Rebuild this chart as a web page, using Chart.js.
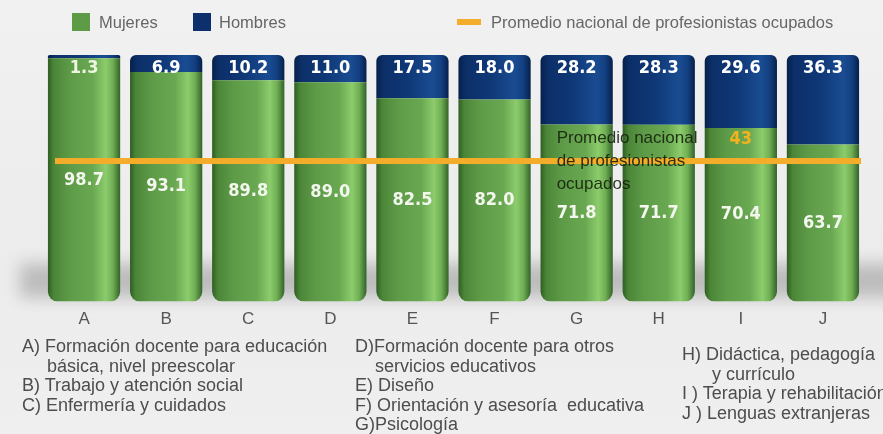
<!DOCTYPE html>
<html>
<head>
<meta charset="utf-8">
<script src="https://cdn.jsdelivr.net/npm/chart.js@4.4.0/dist/chart.umd.min.js"></script>
<style>
  body { margin: 0; background: #eeeeee; font-family: "Liberation Sans", Arial, sans-serif; }
  #wrap { position: relative; width: 883px; height: 434px; overflow: hidden;
          background: linear-gradient(#f1f1f1, #ececec 60%, #efefef); }
  #chartBox { position: absolute; left: 0; top: 0; width: 883px; height: 342px; }
  .leg { position: absolute; top: 12px; font-size: 16.5px; color: #666; line-height: 20px; white-space: nowrap; }
  .sw { position: absolute; }
  .nota { position: absolute; font-size: 18px; color: #4d4d4d; line-height: 19.5px; white-space: nowrap; }
</style>
</head>
<body>
<div id="wrap">
  <div id="chartBox"><canvas id="myChart"></canvas></div>

  <div class="sw" style="left:72px;top:13px;width:18px;height:18px;background:#5d9b47"></div>
  <div class="leg" style="left:99px" id="legM"></div>
  <div class="sw" style="left:193px;top:13px;width:18px;height:18px;background:#0d2f6b"></div>
  <div class="leg" style="left:219px" id="legH"></div>
  <div class="sw" style="left:457px;top:19px;width:24px;height:6px;background:#f4ad2a"></div>
  <div class="leg" style="left:491px" id="legP"></div>

  <div class="nota" style="left:22px;top:337px" id="col1"></div>
  <div class="nota" style="left:355px;top:337px" id="col2"></div>
  <div class="nota" style="left:682px;top:345px" id="col3"></div>
</div>

<script>
// datos
const categories = ['A', 'B', 'C', 'D', 'E', 'F', 'G', 'H', 'I', 'J'];
const mujeres = [98.7, 93.1, 89.8, 89.0, 82.5, 82.0, 71.8, 71.7, 70.4, 63.7];
const hombres = [1.3, 6.9, 10.2, 11.0, 17.5, 18.0, 28.2, 28.3, 29.6, 36.3];
const promedioNacional = 43;
const promedioBar = 8; // barra I
const seriesNames = ['Mujeres', 'Hombres', 'Promedio nacional de profesionistas ocupados'];
const promedioNota = ['Promedio nacional', 'de profesionistas', 'ocupados'];

const notas1 = ['A) Formación docente para educación', '&nbsp;&nbsp;&nbsp;&nbsp;&nbsp;básica, nivel preescolar',
                'B) Trabajo y atención social', 'C) Enfermería y cuidados'];
const notas2 = ['D)Formación docente para otros', '&nbsp;&nbsp;&nbsp;&nbsp;servicios educativos', 'E) Diseño',
                'F) Orientación y asesoría&nbsp;&nbsp;educativa', 'G)Psicología'];
const notas3 = ['H) Didáctica, pedagogía', '&nbsp;&nbsp;&nbsp;&nbsp;&nbsp;&nbsp;y currículo',
                'I ) Terapia y rehabilitación', 'J ) Lenguas extranjeras'];

document.getElementById('legM').textContent = seriesNames[0];
document.getElementById('legH').textContent = seriesNames[1];
document.getElementById('legP').textContent = seriesNames[2];
document.getElementById('col1').innerHTML = notas1.join('<br>');
document.getElementById('col2').innerHTML = notas2.join('<br>');
document.getElementById('col3').innerHTML = notas3.join('<br>');

const BAR_PCT = 0.88;

// degradado horizontal tipo cilindro
function cylinder(c, stops) {
  const chart = c.chart;
  const area = chart.chartArea;
  const xs = chart.scales.x;
  if (!area || !xs) return stops[2][1];
  const cx = xs.getPixelForValue(c.dataIndex);
  const w = (area.width / categories.length) * BAR_PCT;
  const g = chart.ctx.createLinearGradient(cx - w / 2, 0, cx + w / 2, 0);
  stops.forEach(s => g.addColorStop(s[0], s[1]));
  return g;
}

const greenStops = [[0, '#2f5e22'], [0.08, '#4b8638'], [0.3, '#5e9b48'], [0.62, '#69a851'],
                    [0.8, '#8ccc6c'], [0.9, '#6fae53'], [1, '#33622a']];
const navyStops = [[0, '#06204c'], [0.1, '#0c2f68'], [0.45, '#0f3877'], [0.78, '#1a4c92'],
                   [0.9, '#123f80'], [1, '#061f4a']];

const floorShadow = {
  id: 'floorShadow',
  beforeDatasetsDraw(chart) {
    const { ctx, chartArea } = chart;
    ctx.save();
    ctx.filter = 'blur(8px)';
    ctx.fillStyle = 'rgba(0,0,0,0.2)';
    ctx.fillRect(20, chartArea.bottom - 38, 900, 34);
    ctx.restore();
  }
};

const labelsPlugin = {
  id: 'labelsPlugin',
  afterDatasetsDraw(chart) {
    const { ctx } = chart;
    const ys = chart.scales.y;
    const xs = chart.scales.x;
    const lineY = ys.getPixelForValue(100 - promedioNacional);

    ctx.save();
    // linea del promedio nacional
    ctx.fillStyle = '#f4ad2a';
    ctx.fillRect(55, lineY - 3, 806, 6);

    ctx.font = "bold 18px 'DejaVu Sans Condensed', 'DejaVu Sans', sans-serif";
    ctx.textAlign = 'center';
    ctx.textBaseline = 'middle';
    const m = chart.getDatasetMeta(0);
    const h = chart.getDatasetMeta(1);
    m.data.forEach((el, i) => {
      ctx.fillStyle = '#f3f7ee';
      ctx.fillText(mujeres[i].toFixed(1), el.x, (el.y + el.base) / 2);
      ctx.fillStyle = i === 0 ? '#eef6e2' : '#ffffff';
      ctx.fillText(hombres[i].toFixed(1), h.data[i].x, h.data[i].y + 13);
    });

    ctx.fillStyle = '#f4b21e';
    ctx.fillText(String(promedioNacional), xs.getPixelForValue(promedioBar), lineY - 22);

    ctx.font = "17px 'Liberation Sans', Arial, sans-serif";
    ctx.textAlign = 'left';
    ctx.fillStyle = 'rgba(18,30,10,0.88)';
    const tx = xs.getPixelForValue(6) - 20;
    promedioNota.forEach((t, k) => ctx.fillText(t, tx, lineY + (k - 1) * 23));
    ctx.restore();
  }
};

const ctx = document.getElementById('myChart').getContext('2d');
const myChart = new Chart(ctx, {
  type: 'bar',
  data: {
    labels: categories,
    datasets: [{
      label: seriesNames[0],
      data: mujeres,
      backgroundColor: c => cylinder(c, greenStops),
      borderRadius: { topLeft: 0, topRight: 0, bottomLeft: 10, bottomRight: 10 },
      borderSkipped: false,
      categoryPercentage: 1,
      barPercentage: BAR_PCT
    }, {
      label: seriesNames[1],
      data: hombres,
      backgroundColor: c => cylinder(c, navyStops),
      borderRadius: { topLeft: 6, topRight: 6, bottomLeft: 0, bottomRight: 0 },
      borderSkipped: false,
      categoryPercentage: 1,
      barPercentage: BAR_PCT
    }]
  },
  options: {
    responsive: true,
    maintainAspectRatio: false,
    animation: false,
    layout: { padding: { top: 55, left: 43, right: 19, bottom: 4 } },
    plugins: {
      legend: { display: false },
      tooltip: { enabled: false }
    },
    scales: {
      x: {
        stacked: true,
        grid: { display: false, drawTicks: false },
        border: { display: false },
        ticks: { color: '#555', padding: 8, font: { size: 17, family: "'Liberation Sans', Arial, sans-serif" } }
      },
      y: {
        stacked: true,
        display: false,
        min: 0,
        max: 100
      }
    }
  },
  plugins: [floorShadow, labelsPlugin]
});
</script>
</body>
</html>
